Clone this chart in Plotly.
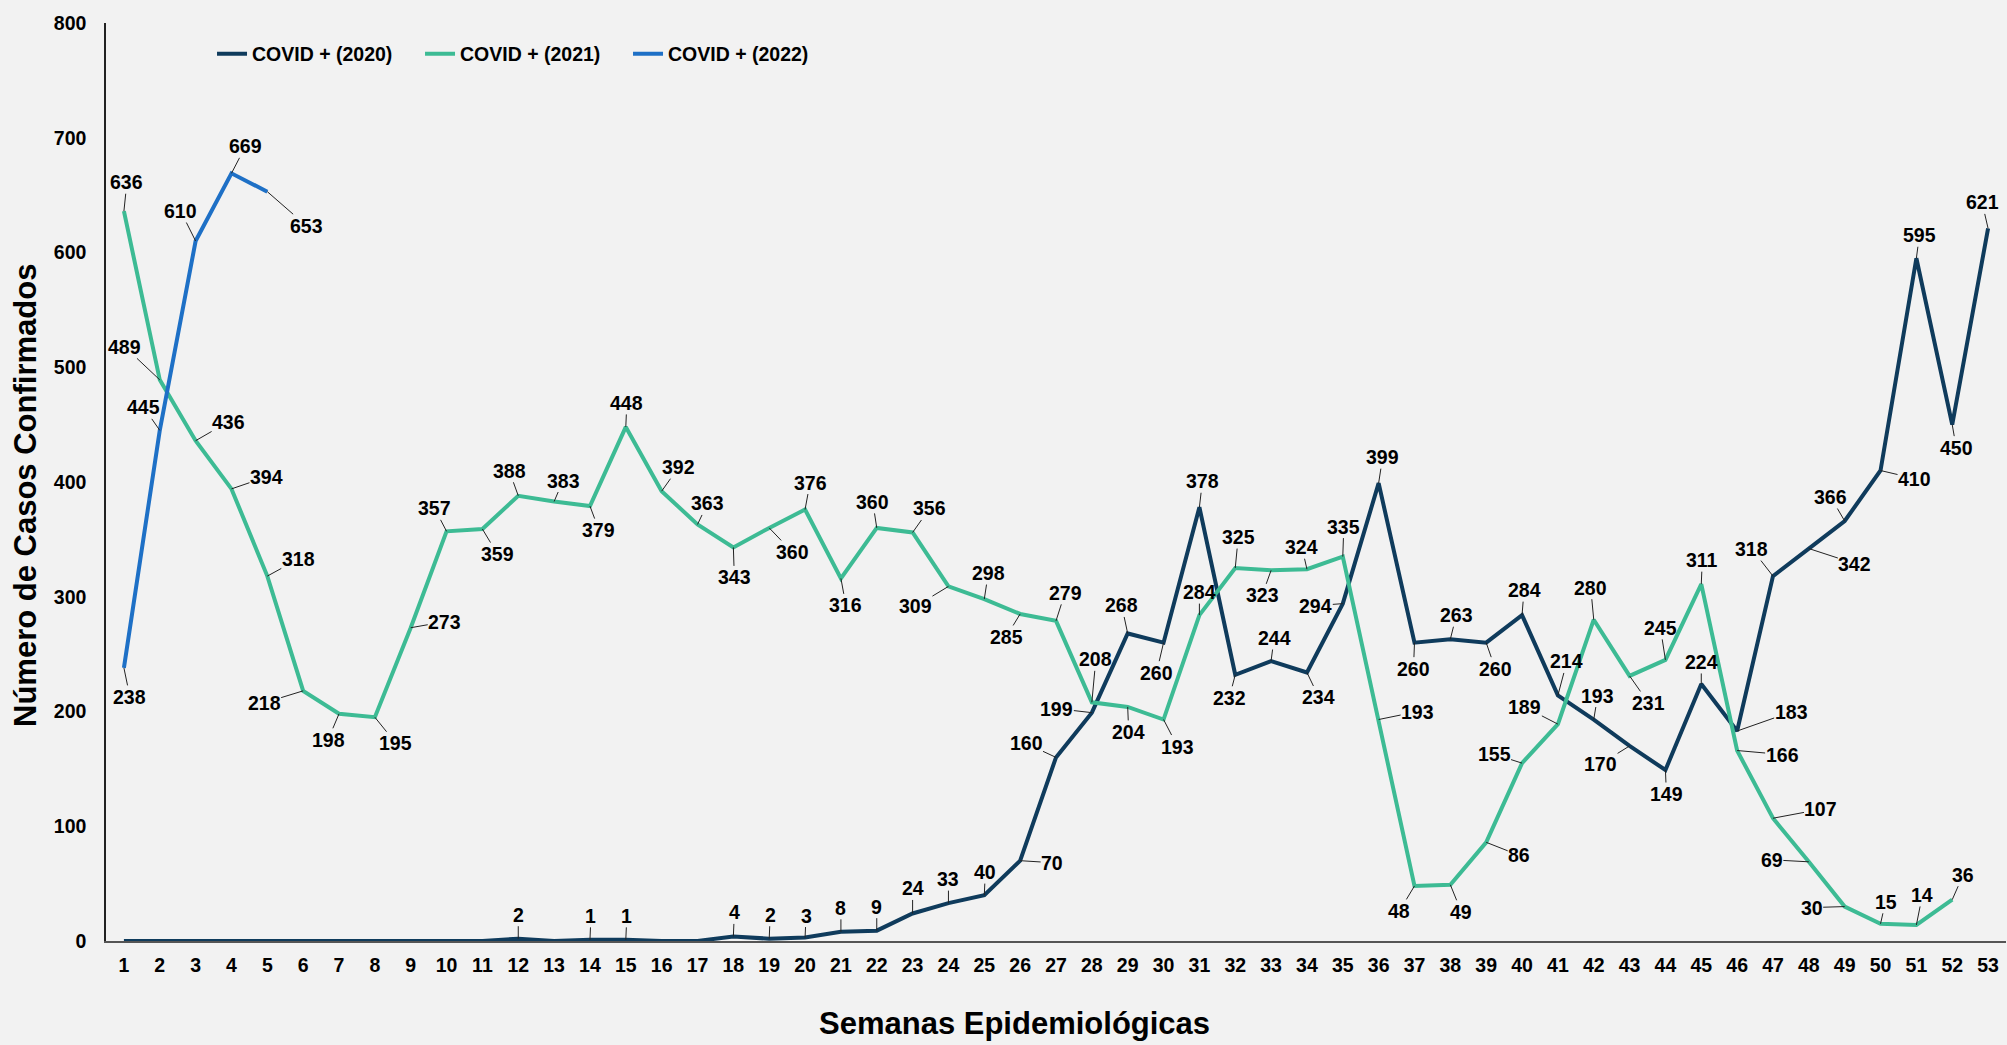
import plotly.graph_objects as go

weeks = list(range(1, 54))
week_labels = [str(w) for w in weeks]

covid_2020 = [0, 0, 0, 0, 0, 0, 0, 0, 0, 0, 0, 2, 0, 1, 1, 0, 0, 4, 2, 3,
              8, 9, 24, 33, 40, 70, 160, 199, 268, 260, 378, 232, 244, 234, 294, 399,
              260, 263, 260, 284, 214, 193, 170, 149, 224, 183, 318, 342, 366, 410,
              595, 450, 621]
covid_2021 = [636, 489, 436, 394, 318, 218, 198, 195, 273, 357, 359, 388, 383, 379,
              448, 392, 363, 343, 360, 376, 316, 360, 356, 309, 298, 285, 279, 208,
              204, 193, 284, 325, 323, 324, 335, 193, 48, 49, 86, 155, 189, 280, 231,
              245, 311, 166, 107, 69, 30, 15, 14, 36]
covid_2022 = [238, 445, 610, 669, 653]

series_names = ["COVID + (2020)", "COVID + (2021)", "COVID + (2022)"]
colors = ["#0f3b5c", "#3dbb94", "#1e70c6"]

# label offsets (pixels) for the data-label callouts, keyed by week
off_2020 = {12: (0, -24), 14: (1, -24), 15: (1, -24), 18: (1, -24), 19: (1, -24),
            20: (1, -22), 21: (0, -24), 22: (0, -24), 23: (0, -25), 24: (0, -24),
            25: (1, -23), 26: (32, 2), 27: (-30, -14), 28: (-35, -4), 29: (-6, -28),
            30: (-7, 30), 31: (3, -26), 32: (-6, 23), 33: (3, -23), 34: (12, 25),
            35: (-27, 2), 36: (4, -26), 37: (-1, 26), 38: (6, -24), 39: (9, 26),
            40: (2, -25), 41: (9, -34), 42: (4, -24), 43: (-29, 18), 44: (1, 24),
            45: (0, -22), 46: (54, -19), 47: (-21, -27), 48: (46, 15), 49: (-14, -24),
            50: (34, 8), 51: (3, -23), 52: (4, 23), 53: (-6, -26)}
off_2021 = [(3, -29), (-35, -33), (33, -19), (35, -12), (31, -17), (-39, 12), (-11, 26),
            (21, 26), (34, -6), (-12, -23), (15, 25), (-9, -25), (9, -21), (9, 24),
            (1, -24), (17, -24), (10, -21), (1, 30), (23, 24), (5, -27), (5, 27),
            (-4, -26), (17, -24), (-33, 20), (4, -26), (-14, 23), (9, -28), (4, -43),
            (1, 25), (14, 27), (0, -23), (3, -31), (-9, 25), (-5, -22), (1, -30),
            (39, -8), (-15, 25), (11, 27), (33, 13), (-28, -9), (-33, -17), (-3, -32),
            (19, 27), (-5, -32), (1, -24), (45, 4), (48, -9), (-37, -2), (-33, 1),
            (5, -22), (6, -30), (11, -25)]
off_2022 = [(6, 29), (-16, -23), (-15, -30), (14, -27), (39, 34)]

FONT = "Liberation Sans, Arial, sans-serif"

fig = go.Figure()
for name, vals, col in zip(series_names, [covid_2020, covid_2021, covid_2022], colors):
    fig.add_trace(go.Scatter(
        x=weeks[:len(vals)], y=vals, mode="lines", name=name,
        line=dict(color=col, width=4), hoverinfo="x+y"))

annotations = []

def add_label(x, y, off):
    annotations.append(dict(
        x=x, y=y, xref="x", yref="y", text=str(y), showarrow=True,
        arrowhead=0, arrowwidth=1, arrowcolor="#222222", standoff=0,
        ax=off[0], ay=off[1], borderpad=0,
        font=dict(family=FONT, size=19.5, color="#000000", weight="bold")))

for w, v in zip(weeks, covid_2020):
    if w in off_2020:
        add_label(w, v, off_2020[w])
for w, v, o in zip(weeks, covid_2021, off_2021):
    add_label(w, v, o)
for w, v, o in zip(weeks, covid_2022, off_2022):
    add_label(w, v, o)

annotations.append(dict(
    text="Número de Casos Confirmados", xref="paper", yref="paper",
    x=-0.042, y=0.485, xanchor="center", yanchor="middle",
    textangle=-90, showarrow=False,
    font=dict(family=FONT, size=31, color="#000000", weight="bold")))
annotations.append(dict(
    text="Semanas Epidemiológicas", xref="paper", yref="paper",
    x=0.478, y=-0.0904, xanchor="center", yanchor="middle", showarrow=False,
    font=dict(family=FONT, size=31, color="#000000", weight="bold")))

fig.update_layout(
    width=2007, height=1045,
    paper_bgcolor="#f2f2f2", plot_bgcolor="#f2f2f2",
    margin=dict(l=106, r=1, t=23, b=104, autoexpand=False),
    font=dict(family=FONT, size=19, color="#000000", weight="bold"),
    annotations=annotations,
    showlegend=True,
    legend=dict(orientation="h", xref="paper", yref="paper",
                x=0.0558, y=0.9662, xanchor="left", yanchor="middle",
                bgcolor="rgba(0,0,0,0)", entrywidth=163,
                font=dict(family=FONT, size=19.5, color="#000000", weight="bold")),
    xaxis=dict(range=[0.5, 53.5], tickmode="array", tickvals=weeks,
               ticktext=week_labels, showgrid=False, zeroline=False,
               showline=True, linecolor="#555555", linewidth=2, ticks="",
               ticklabelstandoff=6, tickfont=dict(size=19.5)),
    yaxis=dict(range=[0, 800], dtick=100, showgrid=False, zeroline=False,
               showline=True, linecolor="#222222", linewidth=1.5, ticks="",
               ticklabelstandoff=14, tickfont=dict(size=19.5)),
)

fig.write_html("out.html", config={"displayModeBar": False},
               post_script="document.body.style.margin='0';")
